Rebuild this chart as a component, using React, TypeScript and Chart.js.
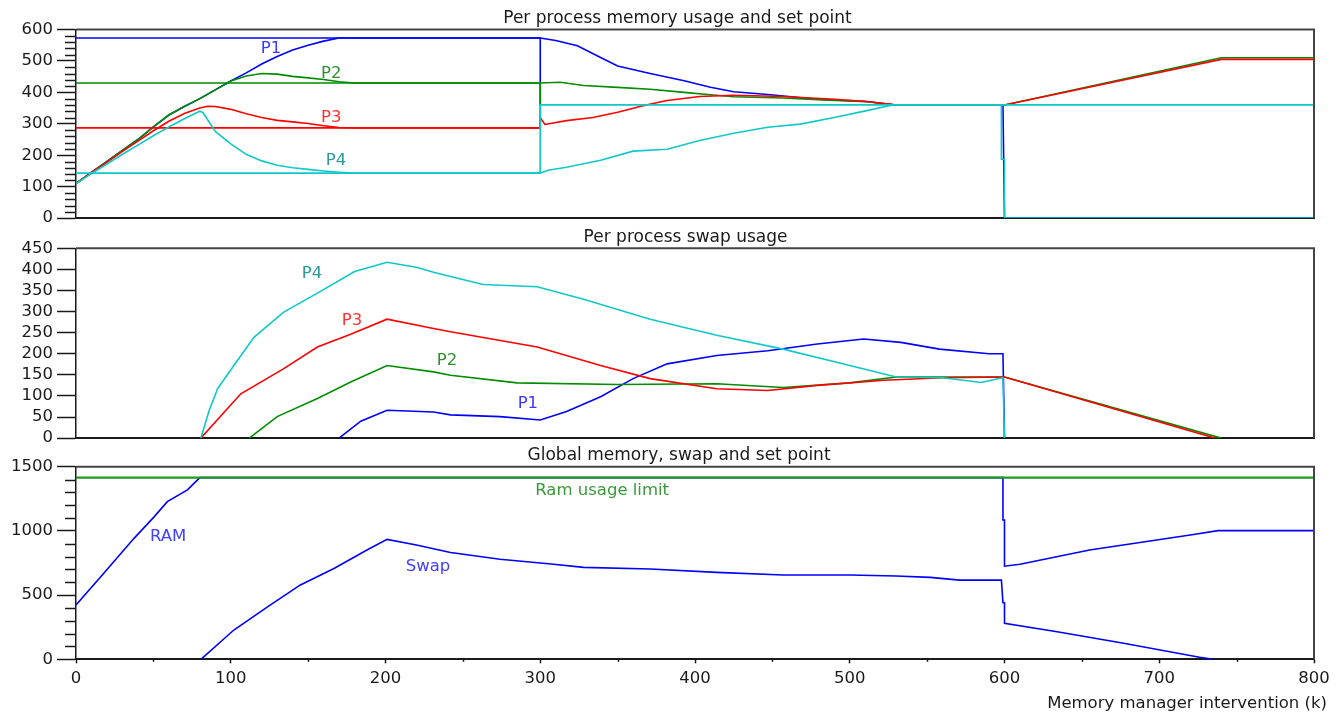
import React, { useEffect, useRef } from "react";
import { Chart, registerables } from "chart.js";

Chart.register(...registerables);

const FONT = "'DejaVu Sans', sans-serif";
const BLUE = "#0000ff";
const GREEN = "#008c00";
const RED = "#ff0000";
const CYAN = "#10c8c8";

// ---------- Panel 1: per process memory usage and set point ----------
const sp1X = [0, 300, 300];
const sp1Y = [573, 573, 360];
const sp2X = [0, 300, 300];
const sp2Y = [430, 430, 360];
const sp3X = [0, 300, 300];
const sp3Y = [287, 287, 360];
const sp4X = [0, 300, 300, 800];
const sp4Y = [143, 143, 360, 360];

const p1MemX = [0, 10, 20, 30, 40, 50, 60, 70, 80, 90, 100, 110, 120, 130, 140, 150, 160, 170, 300, 310, 324, 339, 350, 371, 393, 410, 425, 447, 479, 511, 530, 599, 600, 800];
const p1MemY = [110, 145, 180, 215, 250, 290, 328, 355, 380, 408, 436, 462, 490, 514, 535, 550, 563, 573, 573, 565, 548, 511, 484, 460, 437, 416, 402, 393, 378, 371, 360, 360, 0, 0];

const p2MemX = [0, 10, 20, 30, 40, 50, 60, 70, 80, 90, 100, 110, 120, 130, 140, 150, 160, 170, 180, 300, 313, 328, 350, 371, 393, 408, 425, 457, 479, 511, 530, 600, 740, 800];
const p2MemY = [110, 145, 180, 215, 250, 290, 328, 355, 380, 408, 436, 452, 460, 458, 451, 446, 441, 434, 430, 430, 432, 422, 416, 410, 400, 393, 386, 382, 377, 370, 360, 360, 510, 510];

const p3MemX = [0, 10, 20, 30, 40, 50, 60, 70, 80, 85, 90, 100, 110, 120, 130, 140, 150, 160, 170, 180, 300, 300, 303, 317, 334, 350, 367, 382, 403, 425, 457, 490, 511, 530, 600, 740, 800];
const p3MemY = [110, 145, 178, 212, 245, 278, 308, 333, 350, 356, 355, 346, 332, 320, 311, 306, 301, 294, 288, 287, 287, 320, 298, 310, 320, 337, 358, 374, 387, 391, 387, 378, 371, 360, 360, 505, 505];

const p4MemX = [0, 10, 20, 30, 40, 50, 60, 70, 80, 82, 90, 100, 110, 120, 130, 140, 150, 160, 170, 180, 300, 305, 317, 339, 360, 382, 403, 425, 447, 468, 490, 511, 526, 530, 598, 598, 600, 600, 800];
const p4MemY = [110, 142, 172, 203, 232, 262, 290, 316, 340, 336, 276, 236, 203, 182, 168, 160, 155, 150, 146, 143, 143, 152, 162, 184, 213, 219, 247, 270, 289, 299, 320, 342, 358, 360, 360, 187, 187, 0, 0];

const memLabels = ["P1", "P2", "P3", "P4"];
const memLabelX = [126, 165, 165, 168];
const memLabelY = [539, 460, 319, 184];

// ---------- Panel 2: per process swap usage ----------
const p4SwapX = [80.7, 86, 91.5, 102, 115, 134, 158, 180, 201, 220, 231, 242, 263, 298, 328, 371, 414, 457, 500, 530, 560, 585, 595, 599, 600];
const p4SwapY = [0, 65, 117, 172, 239, 298, 348, 395, 417, 405, 393, 383, 364, 359, 329, 282, 244, 211, 172, 145, 143, 132, 140, 143, 0];

const p3SwapX = [80.7, 106.5, 134, 156, 177.5, 201, 231, 242, 298, 339, 371, 414, 447, 479, 522, 560, 600, 736];
const p3SwapY = [0, 105, 164, 216, 246, 282, 260, 252, 216, 172, 141, 117, 113, 125, 137, 143, 145, 0];

const p2SwapX = [112, 130, 156, 177.5, 201, 231, 242, 285, 350, 414, 457, 500, 530, 600, 740];
const p2SwapY = [0, 51, 94, 133, 172, 157, 149, 131, 127, 129, 120, 131, 145, 145, 0];

const p1SwapX = [170, 184, 201, 231, 242, 274, 300, 317, 339, 360, 382, 414, 447, 479, 509, 533, 558, 590, 599, 600];
const p1SwapY = [0, 40, 66, 62, 55, 51, 43, 63, 98, 141, 176, 196, 207, 223, 235, 227, 211, 200, 200, 0];

const swapLabels = ["P4", "P3", "P2", "P1"];
const swapLabelX = [152.5, 178.4, 239.7, 292];
const swapLabelY = [389, 279, 183, 82];

// ---------- Panel 3: global memory, swap and set point ----------
const limitX = [0, 800];
const limitY = [1415, 1415];

const ramX = [0, 16, 37.5, 50.6, 59, 72, 80, 599, 599, 600, 600, 610, 655, 720, 738, 800];
const ramY = [423, 643, 942, 1111, 1228, 1319, 1415, 1415, 1085, 1085, 725, 740, 851, 968, 1002, 1002];

const gSwapX = [80.7, 102, 124, 145, 167, 188, 201, 220, 242, 274, 307, 328, 371, 414, 457, 500, 530, 552, 571, 598, 599, 600, 600, 634, 677, 726, 735];
const gSwapY = [0, 228, 410, 579, 709, 851, 934, 890, 832, 779, 742, 716, 703, 677, 656, 656, 649, 638, 617, 617, 441, 441, 280, 215, 125, 16, 0];

const globalLabels = ["RAM", "Swap", "Ram usage limit"];
const globalLabelX = [59.5, 227.5, 340];
const globalLabelY = [952, 719, 1311];

const xTicksStep = 100;

function pts(xs: number[], ys: number[]) {
  return xs.map((x, i) => ({ x, y: ys[i] }));
}

function ds(xs: number[], ys: number[], color: string, w = 1.6) {
  return {
    data: pts(xs, ys),
    borderColor: color,
    backgroundColor: color,
    borderWidth: w,
    pointRadius: 0,
    tension: 0,
    fill: false,
  };
}

type TextItem = { t: string; x: number; y: number; c: string };
type Decor = {
  title: string;
  titleX: number;
  texts: TextItem[];
  yMajor: number;
  yMinor?: number;
  xMinor?: number;
  xTitle?: string;
};

function makeDecor(d: Decor) {
  return {
    id: "decor",
    afterDraw(chart: any) {
      const { ctx, chartArea: a, scales } = chart;
      const xs = scales.x;
      const ys = scales.y;
      ctx.save();
      // frame (top + right)
      ctx.strokeStyle = "#444";
      ctx.lineWidth = 2;
      ctx.beginPath();
      ctx.moveTo(a.left, a.top);
      ctx.lineTo(a.right, a.top);
      ctx.lineTo(a.right, a.bottom);
      ctx.stroke();
      // minor y ticks
      ctx.strokeStyle = "#1a1a1a";
      ctx.lineWidth = 1.5;
      if (d.yMinor) {
        for (let v = ys.min; v <= ys.max + 1e-6; v += d.yMinor) {
          if (Math.abs(v % d.yMajor) < 1e-6) continue;
          const y = Math.round(ys.getPixelForValue(v)) + 0.5;
          ctx.beginPath();
          ctx.moveTo(a.left - 11, y);
          ctx.lineTo(a.left, y);
          ctx.stroke();
        }
      }
      if (d.xMinor) {
        for (let v = xs.min + d.xMinor; v < xs.max; v += 2 * d.xMinor) {
          const x = Math.round(xs.getPixelForValue(v)) + 0.5;
          ctx.beginPath();
          ctx.moveTo(x, a.bottom);
          ctx.lineTo(x, a.bottom + 2.5);
          ctx.stroke();
        }
      }
      // title
      ctx.font = "17px " + FONT;
      ctx.fillStyle = "#1a1a1a";
      ctx.textAlign = "center";
      ctx.textBaseline = "alphabetic";
      ctx.fillText(d.title, xs.getPixelForValue(d.titleX), a.top - 6.5);
      // in-plot labels
      ctx.font = "16.5px " + FONT;
      ctx.textBaseline = "middle";
      for (const it of d.texts) {
        ctx.fillStyle = it.c;
        ctx.fillText(it.t, xs.getPixelForValue(it.x), ys.getPixelForValue(it.y));
      }
      if (d.xTitle) {
        ctx.fillStyle = "#1a1a1a";
        ctx.textAlign = "right";
        ctx.textBaseline = "alphabetic";
        ctx.fillText(d.xTitle, a.right + 13, a.bottom + 48.5);
      }
      ctx.restore();
    },
  };
}

function yScale(max: number, step: number) {
  return {
    type: "linear",
    min: 0,
    max,
    ticks: {
      stepSize: step,
      autoSkip: false,
      font: { family: FONT, size: 16.5 },
      color: "#1a1a1a",
      padding: 4,
      callback: (v: any) => String(v),
    },
    grid: { drawOnChartArea: false, tickLength: 19, tickColor: "#1a1a1a", tickWidth: 1.5 },
    border: { display: true, color: "#1a1a1a", width: 1.5 },
    afterFit: (s: any) => {
      s.width = 76;
    },
  };
}

function hiddenX() {
  return {
    type: "linear",
    min: 0,
    max: 800,
    ticks: { display: false },
    grid: { display: false },
    border: { display: true, color: "#1a1a1a", width: 2 },
    afterFit: (s: any) => {
      s.height = 0;
    },
  };
}

function baseOptions(padTop: number, padBottom: number, x: any, y: any) {
  return {
    animation: false,
    responsive: false,
    maintainAspectRatio: false,
    layout: { padding: { top: padTop, bottom: padBottom, left: 0, right: 28 } },
    plugins: { legend: { display: false }, tooltip: { enabled: false }, title: { display: false } },
    scales: { x, y },
  };
}

export default function App() {
  const c1 = useRef<HTMLCanvasElement>(null);
  const c2 = useRef<HTMLCanvasElement>(null);
  const c3 = useRef<HTMLCanvasElement>(null);

  useEffect(() => {
    const charts: Chart[] = [];

    charts.push(
      new Chart(c1.current as HTMLCanvasElement, {
        type: "line",
        data: {
          datasets: [
            ds(sp4X, sp4Y, CYAN, 1.8),
            ds(p4MemX, p4MemY, CYAN),
            ds(p3MemX, p3MemY, RED),
            ds(sp3X, sp3Y, RED),
            ds(p2MemX, p2MemY, GREEN),
            ds(sp2X, sp2Y, GREEN),
            ds(p1MemX, p1MemY, BLUE),
            ds(sp1X, sp1Y, BLUE),
          ] as any,
        },
        options: baseOptions(29.5, 11.3, hiddenX(), yScale(600, 100)) as any,
        plugins: [
          makeDecor({
            title: "Per process memory usage and set point",
            titleX: 388.7,
            yMajor: 100,
            yMinor: 20,
            texts: [
              { t: memLabels[0], x: memLabelX[0], y: memLabelY[0], c: "#3a3aff" },
              { t: memLabels[1], x: memLabelX[1], y: memLabelY[1], c: "#2e922e" },
              { t: memLabels[2], x: memLabelX[2], y: memLabelY[2], c: "#ff3030" },
              { t: memLabels[3], x: memLabelX[3], y: memLabelY[3], c: "#2a9a9a" },
            ],
          }),
        ],
      })
    );

    charts.push(
      new Chart(c2.current as HTMLCanvasElement, {
        type: "line",
        data: {
          datasets: [
            ds(p4SwapX, p4SwapY, CYAN),
            ds(p3SwapX, p3SwapY, RED),
            ds(p2SwapX, p2SwapY, GREEN),
            ds(p1SwapX, p1SwapY, BLUE),
          ] as any,
        },
        options: baseOptions(24.3, 12, hiddenX(), yScale(450, 50)) as any,
        plugins: [
          makeDecor({
            title: "Per process swap usage",
            titleX: 393.9,
            yMajor: 50,
            texts: [
              { t: swapLabels[0], x: swapLabelX[0], y: swapLabelY[0], c: "#2a9a9a" },
              { t: swapLabels[1], x: swapLabelX[1], y: swapLabelY[1], c: "#ff3030" },
              { t: swapLabels[2], x: swapLabelX[2], y: swapLabelY[2], c: "#2e922e" },
              { t: swapLabels[3], x: swapLabelX[3], y: swapLabelY[3], c: "#3a3aff" },
            ],
          }),
        ],
      })
    );

    charts.push(
      new Chart(c3.current as HTMLCanvasElement, {
        type: "line",
        data: {
          datasets: [
            ds(limitX, limitY, "#1f9a1f", 2.2),
            ds(ramX, ramY, BLUE),
            ds(gSwapX, gSwapY, BLUE),
          ] as any,
        },
        options: baseOptions(
          22.7,
          13.7,
          {
            type: "linear",
            min: 0,
            max: 800,
            ticks: {
              stepSize: xTicksStep,
              font: { family: FONT, size: 16.5 },
              color: "#1a1a1a",
              padding: 6,
              maxRotation: 0,
              autoSkip: false,
              callback: (v: any) => String(v),
            },
            grid: { drawOnChartArea: false, tickLength: 4, tickColor: "#1a1a1a", tickWidth: 1.5 },
            border: { display: true, color: "#1a1a1a", width: 2 },
            afterFit: (s: any) => {
              s.height = 40;
            },
          },
          yScale(1500, 500)
        ) as any,
        plugins: [
          makeDecor({
            title: "Global memory, swap and set point",
            titleX: 389.7,
            yMajor: 500,
            yMinor: 100,
            xMinor: 50,
            xTitle: "Memory manager intervention (k)",
            texts: [
              { t: globalLabels[0], x: globalLabelX[0], y: globalLabelY[0], c: "#4040ff" },
              { t: globalLabels[1], x: globalLabelX[1], y: globalLabelY[1], c: "#4040ff" },
              { t: globalLabels[2], x: globalLabelX[2], y: globalLabelY[2], c: "#3a9a3a" },
            ],
          }),
        ],
      })
    );

    return () => {
      charts.forEach((c) => c.destroy());
    };
  }, []);

  const canvasStyle = (top: number, h: number): React.CSSProperties => ({
    position: "absolute",
    left: 0,
    top,
    width: 1342,
    height: h,
    display: "block",
  });

  return (
    <div style={{ position: "fixed", left: 0, top: 0, width: 1342, height: 713, background: "#fff" }}>
      <canvas ref={c1} width={1342} height={232} style={canvasStyle(0, 232)} />
      <canvas ref={c2} width={1342} height={228} style={canvasStyle(224, 228)} />
      <canvas ref={c3} width={1342} height={269} style={canvasStyle(444, 269)} />
    </div>
  );
}
